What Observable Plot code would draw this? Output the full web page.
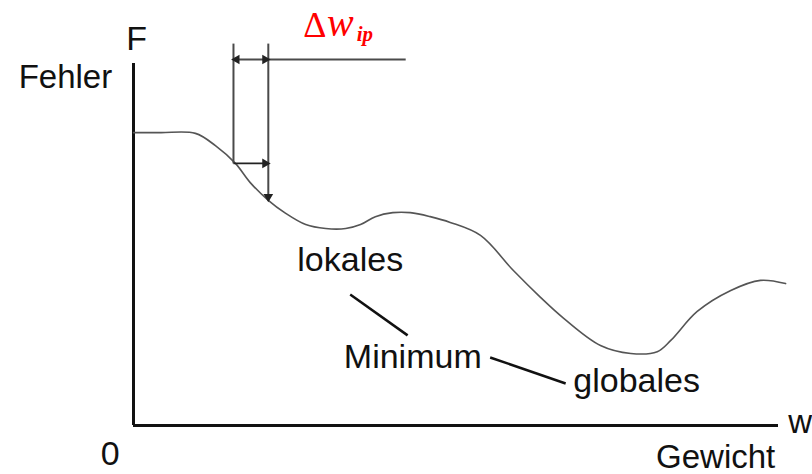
<!DOCTYPE html>
<html>
<head>
<meta charset="utf-8">
<script src="https://cdn.jsdelivr.net/npm/d3@7"></script>
<script src="https://cdn.jsdelivr.net/npm/@observablehq/plot@0.6"></script>
<style>
  html, body { margin: 0; padding: 0; background: #fff; }
  #chart svg { display: block; }
</style>
</head>
<body>
<div id="chart"></div>
<script>
// Error curve F(w) over weight w (arbitrary units, 0..100 on both axes)
const weight = [0, 4.2, 9.6, 12.7, 15.8, 18.1, 20.9, 23.6, 26.7, 29.8, 32.9, 35.2, 37.5, 40.2, 42.9, 46.0, 49.1, 53.8, 58.9, 63.1, 66.7, 72.4, 77.1, 81.2, 83.3, 87.4, 92.6, 97.2, 101.1];
const error  = [80.9, 80.9, 80.7, 77.3, 72.4, 67.1, 62.2, 58.6, 55.5, 54.4, 54.4, 55.5, 57.7, 58.8, 58.8, 57.7, 56.1, 52.5, 42.8, 35.4, 29.6, 22.1, 19.9, 20.4, 23.5, 31.5, 37.3, 40.1, 39.2];

// Step annotation (Δw_ip)
const stepX = [15.5, 20.9];          // the two weight positions
const stepTop = 105.5;               // top of the vertical guide lines
const stepBottom = [72.4, 62.2];     // where the guides meet the curve
const stepBarY = 101.1;              // upper dimension line
const stepBarEnd = 42.2;             // end of the upper dimension line

// Arrow heads (tip positions and directions in degrees)
const headX = [16.0, 20.4, 20.4, 20.9];
const headY = [101.1, 101.1, 72.4, 63.2];
const headRotate = [-90, 90, 90, 180];

// Text labels, grouped by anchor
const labelsMiddleText = ["F", "0", "lokales", "Minimum", "globales"];
const labelsMiddleX    = [0.5, -3.6, 33.6, 43.3, 78.0];
const labelsMiddleY    = [106.6, -8.0, 45.6, 18.8, 12.4];
const labelsEndText = ["Fehler", "Gewicht"];
const labelsEndX    = [-3.3, 99.5];
const labelsEndY    = [96.1, -8.9];
const labelsStartText = ["w"];
const labelsStartX    = [101.5];
const labelsStartY    = [0.8];

// Pointer lines between labels
const pointerX1 = [33.6, 55.3];
const pointerY1 = [36.2, 18.8];
const pointerX2 = [42.5, 67.0];
const pointerY2 = [24.9, 11.6];

const curve = weight.map((w, i) => ({w, f: error[i]}));
const mk = (T, X, Y) => T.map((t, i) => ({t, x: X[i], y: Y[i]}));
const pointers = pointerX1.map((x1, i) => ({x1, y1: pointerY1[i], x2: pointerX2[i], y2: pointerY2[i]}));
const heads = headX.map((x, i) => ({x, y: headY[i], r: headRotate[i]}));

const sans = "Liberation Sans, Arial, sans-serif";
const serif = "Liberation Serif, Times New Roman, serif";
const lineColor = "#4a4a4a";

const chart = Plot.plot({
  width: 812,
  height: 474,
  marginLeft: 133,
  marginRight: 34,
  marginTop: 63,
  marginBottom: 49,
  x: {domain: [0, 100], axis: null},
  y: {domain: [0, 100], axis: null},
  marks: [
    // axes
    Plot.ruleX([0], {y1: 0, y2: 100, stroke: "#111", strokeWidth: 3}),
    Plot.ruleY([0], {x1: 0, x2: 100, stroke: "#111", strokeWidth: 3}),
    // curve
    Plot.line(curve, {x: "w", y: "f", curve: "catmull-rom", stroke: "#555", strokeWidth: 1.6}),
    // step guides
    Plot.link([0], {x1: stepX[0], x2: stepX[0], y1: stepTop, y2: stepBottom[0], stroke: lineColor, strokeWidth: 2}),
    Plot.link([0], {x1: stepX[1], x2: stepX[1], y1: stepTop, y2: stepBottom[1], stroke: lineColor, strokeWidth: 2}),
    Plot.link([0], {x1: stepX[0], x2: stepBarEnd, y1: stepBarY, y2: stepBarY, stroke: lineColor, strokeWidth: 1.8}),
    Plot.link([0], {x1: stepX[0], x2: stepX[1], y1: stepBottom[0], y2: stepBottom[0], stroke: "#222", strokeWidth: 1.8}),
    Plot.dot(heads, {x: "x", y: "y", rotate: "r", symbol: "triangle", r: 3.6, fill: "#222", stroke: "none"}),
    // pointer lines
    Plot.link(pointers, {x1: "x1", y1: "y1", x2: "x2", y2: "y2", stroke: "#111", strokeWidth: 2.5}),
    // labels
    Plot.text(mk(labelsMiddleText, labelsMiddleX, labelsMiddleY), {x: "x", y: "y", text: "t", textAnchor: "middle", fontSize: 34, fontFamily: sans, fill: "#111"}),
    Plot.text(mk(labelsEndText, labelsEndX, labelsEndY), {x: "x", y: "y", text: "t", textAnchor: "end", fontSize: 33, fontFamily: sans, fill: "#111"}),
    Plot.text(mk(labelsStartText, labelsStartX, labelsStartY), {x: "x", y: "y", text: "t", textAnchor: "start", fontSize: 33, fontFamily: sans, fill: "#111"}),
    // Δw_ip label
    Plot.text(["Δ"], {x: 26.3, y: 110.6, textAnchor: "start", fontSize: 36, fontFamily: serif, fill: "#f00"}),
    Plot.text(["w"], {x: 30.0, y: 111.2, textAnchor: "start", fontSize: 40, fontStyle: "italic", fontFamily: serif, fill: "#f00"}),
    Plot.text(["ip"], {x: 34.6, y: 108.0, textAnchor: "start", fontSize: 21, fontStyle: "italic", fontWeight: "bold", fontFamily: serif, fill: "#f00"})
  ]
});
document.getElementById("chart").append(chart);
</script>
</body>
</html>
